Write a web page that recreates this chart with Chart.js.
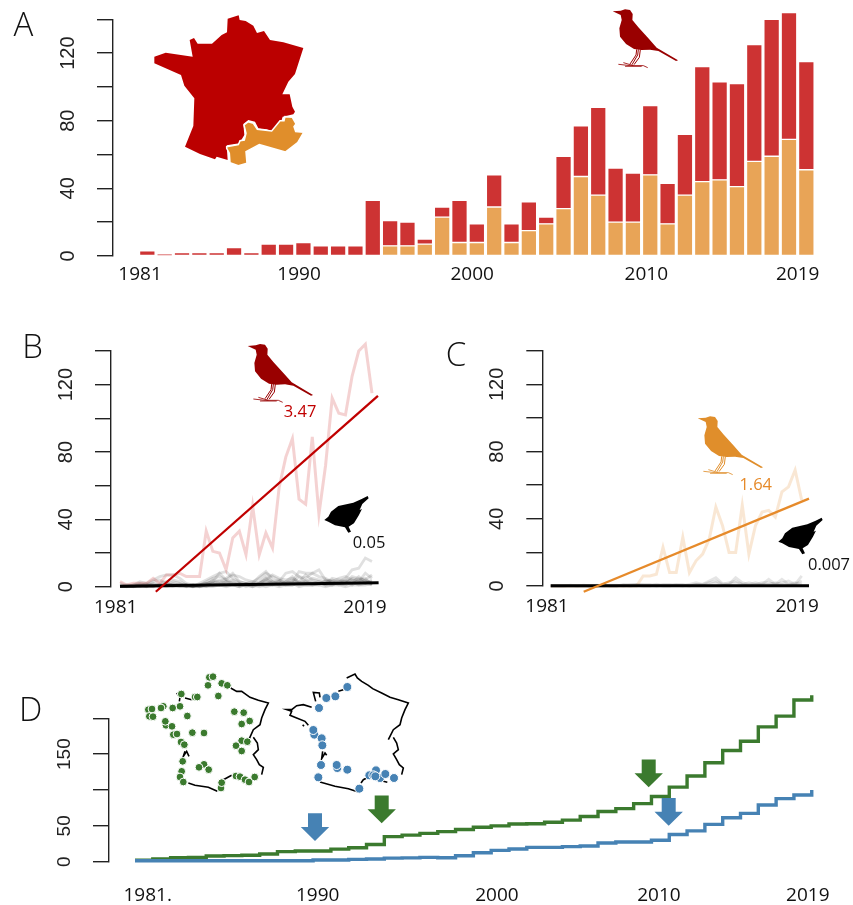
<!DOCTYPE html>
<html><head><meta charset="utf-8">
<script src="https://cdn.jsdelivr.net/npm/chart.js@4"></script>
<style>
html,body{margin:0;padding:0;background:#fff;overflow:hidden}
canvas{position:absolute;display:block}
</style></head><body>
<canvas id="a" style="left:0;top:0" width="853" height="300"></canvas>
<canvas id="b" style="left:0;top:330px" width="425" height="295"></canvas>
<canvas id="c" style="left:425px;top:330px" width="428" height="295"></canvas>
<canvas id="d" style="left:0;top:660px" width="853" height="245"></canvas>
<canvas id="m1" style="left:140px;top:668px" width="135" height="130"></canvas>
<canvas id="m2" style="left:280px;top:668px" width="135" height="130"></canvas>
<script>
const years=[1981,1982,1983,1984,1985,1986,1987,1988,1989,1990,1991,1992,1993,1994,1995,1996,1997,1998,1999,2000,2001,2002,2003,2004,2005,2006,2007,2008,2009,2010,2011,2012,2013,2014,2015,2016,2017,2018,2019];
const totalCounts=[3,1,2,2,2,5,2,7,7,8, 6,6,6,33,21,20,10,29,33,19, 48,19,32,23,59,77,88,52,49,89, 43,72,112,103,102,125,140,144,115];
const orangeCounts=[0,0,0,0,0,0,0,0,0,0, 0,0,0,0,6,6,7,23,8,8, 29,8,15,19,28,47,36,20,20,48, 19,36,44,45,41,56,59,69,51];
const redOnlyCounts=[3,1,2,2,2,5,2,7,7,8, 6,6,6,33,15,14,3,6,25,11, 19,11,17,4,31,30,52,32,29,41, 24,36,68,58,61,69,81,75,64];

const greyB=[
[2,1,1,3,2,4,6,7,7,5, 2,1,1,2,3,8,4,2,1,2, 3,5,8,6,4,2,3,9,8,8, 10,4,3,3,5,10,11,17,15],
[1,0,1,2,1,3,4,2,1,1, 1,0,2,4,6,8,9,5,3,2, 2,6,9,4,3,8,9,6,5,8, 6,5,3,5,6,4,3,8,5],
[0,1,0,1,2,1,2,3,4,3, 1,1,1,3,5,6,4,7,6,4, 3,2,4,7,5,4,5,3,7,4, 3,2,5,4,3,6,5,4,7],
[0,0,1,1,0,2,1,1,3,2, 0,1,0,1,4,3,5,8,3,2, 1,3,6,3,2,3,2,6,3,5, 4,3,2,3,4,2,6,3,2],
[0,0,0,1,1,1,0,2,1,1, 1,0,1,2,3,2,3,4,2,1, 1,2,4,2,4,2,4,2,4,2, 1,4,2,2,3,4,3,3,3],
[0,0,0,0,1,0,1,1,1,0, 0,1,0,1,1,2,1,2,1,1, 2,1,2,3,1,2,3,1,2,3, 2,1,3,1,2,2,2,4,2],
[0,0,0,0,0,1,0,0,1,1, 1,0,0,0,2,1,1,1,2,0, 1,0,1,1,2,1,1,2,1,1, 2,2,1,2,1,3,1,2,1],
[0,0,0,0,0,0,0,1,0,0, 0,0,1,0,0,1,0,1,0,1, 0,1,0,1,0,1,2,0,1,1, 1,0,1,1,0,1,1,1,2],
[0,0,0,1,0,0,1,0,0,1, 1,0,1,2,1,1,3,1,0,2, 1,1,3,1,3,1,1,3,2,2, 3,1,1,3,3,1,4,2,4],
[0,0,0,0,0,0,1,1,2,1, 0,0,0,1,2,4,2,3,1,1, 0,2,5,2,1,3,6,2,3,1, 2,3,4,2,2,5,4,5,1]
];
const greyC=[
[0,0,0,0.5,0,0,0,0,0.5,0, 0,1,1,1,0.5,1,0.5,1,0.5,0.5, 1,0.5,1,1,3,5,1.5,1,5,2, 1,2,1,4,1,4,1,1,6],
[0,0,0,0,0,0.5,0,0,0,0.5, 0.5,0,0.5,1,1,0.5,0,0.5,1,0.5, 0,1,2,1,2,3,1,2,3,1, 2,1,2,2,1,2,3,1,3],
[0,0,0,0,0,0,0,0.5,0,0, 0,0.5,0,0.5,0,0,1,0,0,1, 0.5,0,1,0.5,1,2,0.5,1,2,1, 0.5,1,1,1,2,1,1,2,1]
];
const trendBx=[1986.4,2019.9], trendBy=[-3,113.3];
const flatBx=[1981,2020], flatBy=[0.2,2.3];
const trendCx=[1986,2020.1], trendCy=[-3.4,52];
const flatCx=[1981,2020.1], flatCy=[0.1,0.2];

const greenCum=[2,3.7,5.5,6,8,8.5,9,10.7,14,15, 15,17.6,19.5,24,35,37,39.5,42,45,48, 50,52.5,53,55,58,63,70,74,81,91, 104,119.5,138,155,168,188,203,225.6,232];
const blueCum=[1.4,1.4,1.4,1.4,1.4,1.4,1.4,1.4,1.4,1.4, 2.3,2.3,3.3,3.7,5,5.3,6,5.6,8.4,12.5, 15.8,17.7,20,20,21,22,26,27.4,27.4,30, 38,43,52,61.4,67.4,79,88,93,100];

const labelsA=['1981','1990','2000','2010','2019'], anchorsA=[1980.58,1989.75,1999.73,2009.77,2018.5];
const labelsBC=['1981','2019'], anchorsB=[1980.35,2017.95], anchorsC=[1980.44,2018.3];
const labelsD=['1981.','1990','2000','2010','2019'], anchorsD=[1981.71,1991.26,2001.32,2010.42,2018.78];
const yTicksCount=[0,40,80,120], yTicksD=[0,50,150];

const RED='#CD3333',ORANGE='#E8A457',DK='#222';
const XF='"Open Sans",sans-serif', YF='"Liberation Sans",sans-serif';
const pts=(xs,ys)=>xs.map((x,i)=>({x,y:ys[i]}));

function noMargins(s){s.paddingLeft=s.paddingRight=s.paddingTop=s.paddingBottom=0;if(s._margins){s._margins.left=s._margins.right=s._margins.top=s._margins.bottom=0;}}
function axes(o){return {
 x:{type:'linear',offset:false,stacked:!!o.stacked,min:o.xmin,max:o.xmax,position:'bottom',
   afterFit:s=>{s.height=o.bottomH;noMargins(s);},
   afterBuildTicks:s=>{s.ticks=o.anchors.map(v=>({value:v}));},
   grid:{display:false,drawTicks:false},border:{display:false},
   ticks:{autoSkip:false,maxRotation:0,minRotation:0,padding:o.xpad,font:{family:XF,size:o.xsize||19},color:'#111',
     callback:(v,i)=>o.labels[i]}},
 y:{type:'linear',stacked:!!o.stacked,min:0,max:o.ymax,position:'left',
   afterFit:s=>{s.width=o.left;noMargins(s);},
   grid:{drawOnChartArea:false,drawTicks:true,tickLength:16,tickColor:DK,lineWidth:1.4},
   border:{display:true,color:DK,width:1.4},
   ticks:{stepSize:o.step,autoSkip:false,minRotation:90,maxRotation:90,crossAlign:'center',padding:12,
     font:{family:YF,size:o.ysize||20},color:'#222',
     callback:v=>o.yShow.includes(v)?String(v):''}}
};}
function base(o,plugin){return {responsive:false,animation:false,devicePixelRatio:1,
  layout:{autoPadding:false,padding:{top:o.top,right:o.right,left:0,bottom:0}},
  plugins:{legend:{display:false},tooltip:{enabled:false}},
  scales:axes(o)};}

function poly(ctx,p,s,ox,oy){ctx.beginPath();p.forEach((q,i)=>{const x=ox+q[0]/s,y=oy+q[1]/s;i?ctx.lineTo(x,y):ctx.moveTo(x,y);});ctx.closePath();}
const birdBody=[[548,34],[572,32],[585,28],[600,30],[608,42],[607,60],[625,82],[655,115],[680,143],[744,181],[738,183],[685,153],[660,149],[635,150],[612,147],[588,132],[570,110],[568,85],[575,60],[572,45]];
const birdLegs=[[[620,148],[618,165],[600,192]],[[625,148],[623,165],[606,194]],[[631,148],[628,172],[612,194]]];
const birdFeet=[[[565,193],[600,197],[640,197],[653,203]],[[580,188],[610,197]],[[585,199],[635,199]]];
function bird(ctx,x,y,c){
 ctx.save();ctx.translate(x-548/3,y-34/3);ctx.scale(1/3,1/3);
 poly(ctx,birdBody,1,0,0);ctx.fillStyle=c;ctx.fill();
 ctx.strokeStyle=c;ctx.lineWidth=3;
 birdLegs.forEach(l=>{ctx.beginPath();l.forEach((q,i)=>i?ctx.lineTo(q[0],q[1]):ctx.moveTo(q[0],q[1]));ctx.stroke();});
 ctx.lineWidth=2.5;
 birdFeet.forEach(l=>{ctx.beginPath();l.forEach((q,i)=>i?ctx.lineTo(q[0],q[1]):ctx.moveTo(q[0],q[1]));ctx.stroke();});
 ctx.restore();
}
const blackBird=[[973,570],[985,560],[993,545],[1015,528],[1060,518],[1085,507],[1103,498],[1106,505],[1087,522],[1079,540],[1086,537],[1077,555],[1062,580],[1046,590],[1053,605],[1045,608],[1035,592],[1005,586],[985,575]];
function bbird(ctx,x,y){ctx.save();ctx.translate(x-973/3,y-570/3);poly(ctx,blackBird,3,0,0);ctx.fillStyle='#000';ctx.fill();ctx.restore();}
function text(ctx,t,x,y,font,c){ctx.save();ctx.font=font;ctx.fillStyle=c;ctx.textAlign='center';ctx.textBaseline='middle';ctx.fillText(t,x,y);ctx.restore();}
const LETTER='300 33px "Open Sans",sans-serif', NOTE='16.5px "Open Sans",sans-serif';

const franceRed=[[463,170],[497,158],[578,170],[569,120],[582,114],[593,131],[636,131],[665,105],[681,97],[683,56],[716,46],[719,60],[737,63],[760,77],[771,99],[792,93],[810,120],[850,127],[910,144],[885,222],[865,245],[847,283],[869,283],[877,320],[885,335],[880,343],[848,350],[845,360],[820,395],[800,388],[775,385],[765,365],[745,360],[730,372],[733,405],[718,430],[680,436],[683,480],[650,470],[645,478],[600,462],[555,440],[580,378],[583,295],[553,257],[543,225],[463,190]];
const franceOrange=[[680,440],[715,434],[720,422],[733,420],[738,400],[732,375],[745,365],[760,370],[772,388],[815,393],[840,362],[852,362],[855,350],[877,352],[888,372],[882,380],[887,395],[911,397],[893,428],[856,456],[778,434],[738,455],[741,490],[715,497],[690,488],[688,460],[680,445]];

new Chart('a',{type:'bar',
 data:{datasets:[
  {data:pts(years,orangeCounts),backgroundColor:ORANGE,borderColor:'#fff',borderWidth:1,borderSkipped:false,barThickness:15.6,clip:false},
  {data:pts(years,redOnlyCounts),backgroundColor:RED,borderColor:'#fff',borderWidth:1,borderSkipped:false,barThickness:15.6,clip:false}]},
 options:base({stacked:true,top:19.3,right:38,left:113,bottomH:44,xmin:1979.02,xmax:2019.5,ymax:140,step:20,xpad:7,anchors:anchorsA,labels:labelsA,yShow:yTicksCount}),
 plugins:[{id:'decoA',afterDraw(ch){const c=ch.ctx;
  poly(c,franceRed,3,0,0);c.fillStyle='#BB0000';c.fill();
  poly(c,franceOrange,3,0,0);c.fillStyle='#E08E2B';c.fill();c.strokeStyle='#fff';c.lineWidth=1.5;c.stroke();
  bird(c,612.7,11.3,'#990000');
  text(c,'A',23.3,27,LETTER,'#111');
 }}]});

function panel(id,o,ds,deco){new Chart(id,{type:'line',data:{datasets:ds},options:base(o),plugins:[{id:'deco'+id,afterDraw:deco}]});}
const ln=(data,color,w)=>({data,borderColor:color,borderWidth:w,pointRadius:0,tension:0,clip:false,fill:false,borderCapStyle:'butt'});

panel('b',{top:21,right:425-378.6,left:111,bottomH:295-256.7,xmin:1979.64,xmax:2020,ymax:140,step:20,xpad:9,anchors:anchorsB,labels:labelsBC,yShow:yTicksCount},
 [ln(pts(trendBx,trendBy),'#C00000',2.3),ln(pts(flatBx,flatBy),'#000',3),
  ln(pts(years,totalCounts),'rgba(205,51,51,0.22)',3),
  ...greyB.map(g=>ln(pts(years,g),'rgba(0,0,0,0.12)',2.8))],
 function(ch){const c=ch.ctx;
  bird(c,247.7,16,'#990000');bbird(c,324.3,190);
  text(c,'3.47',300,82,NOTE,'#C00000');text(c,'0.05',369,213,NOTE,'#111');
  text(c,'B',32.7,18.3,LETTER,'#111');
 });

panel('c',{top:20.7,right:428-384,left:117.3,bottomH:295-256,xmin:1979.73,xmax:2020.1,ymax:140,step:20,xpad:9,anchors:anchorsC,labels:labelsBC,yShow:yTicksCount},
 [ln(pts(trendCx,trendCy),'#E68A2A',2.3),ln(pts(flatCx,flatCy),'#000',3),
  ln(pts(years,orangeCounts),'rgba(232,164,87,0.26)',3),
  ...greyC.map(g=>ln(pts(years,g),'rgba(0,0,0,0.10)',2.8))],
 function(ch){const c=ch.ctx;
  bird(c,272.7,88.3,'#E08E2B');bbird(c,353.3,211.7);
  text(c,'1.64',330.7,155.7,NOTE,'#E68A2A');text(c,'0.007',404,235.7,NOTE,'#111');
  text(c,'C',31,27,LETTER,'#111');
 });

const arrows=[{c:'#4682B4',x:315,tip:841},{c:'#3B7A2E',x:381.7,tip:823.3},{c:'#3B7A2E',x:648.7,tip:787.3},{c:'#4682B4',x:668.7,tip:825.7}];
new Chart('d',{type:'line',
 data:{datasets:[
  {...ln(pts(years,blueCum),'#4682B4',3.4),stepped:true},
  {...ln(pts(years,greenCum),'#3B7A2E',3.4),stepped:true}]},
 options:base({top:58.3,right:853-815.3,left:109,bottomH:245-201.7,xmin:1979.54,xmax:2019.2,ymax:200,step:50,xpad:22,anchors:anchorsD,labels:labelsD,yShow:yTicksD,ysize:19}),
 plugins:[{id:'decoD',afterDraw(ch){const c=ch.ctx;
  arrows.forEach(a=>{const t=a.tip-660,shaft=7,head=14.2;
   poly(c,[[a.x-shaft,t-27.7],[a.x+shaft,t-27.7],[a.x+shaft,t-14],[a.x+head,t-14],[a.x,t],[a.x-head,t-14],[a.x-shaft,t-14]],1,0,0);
   c.fillStyle=a.c;c.fill();});
  text(c,'D',30.7,51.7,LETTER,'#111');
 }}]});

const outlineLeft=[
 [[272,60],[290,70],[305,70],[330,88],[355,97],[385,105],[375,125],[365,150],[360,170],[340,185],[328,212]],
 [[340,208],[352,225],[355,245],[340,260],[350,275],[358,290],[370,298],[365,320]],
 [[275,322],[250,335]],
 [[232,370],[205,358],[165,352],[145,345]],
 [[110,75],[120,88],[118,100]],[[135,90],[155,95]],
 [[135,250],[130,265],[140,250],[147,265]]];
const outlineRight=[
 [[200,30],[225,18],[232,30],[245,40],[265,52],[278,62],[305,75],[330,88],[355,95],[385,105],[375,125],[365,150],[360,170],[340,185],[325,215]],
 [[340,208],[350,225],[355,245],[340,258],[350,275],[358,290],[370,300],[365,320]],
 [[310,340],[322,343]],[[270,325],[250,335],[243,345]],
 [[235,372],[205,362],[165,355],[120,342]],
 [[128,250],[125,272],[135,255],[140,262]],
 [[107,100],[100,73],[118,75],[120,88]],
 [[95,118],[70,110],[50,113],[35,125],[20,125],[35,130],[30,142],[50,150],[75,160],[85,172]],
 [[175,70],[190,65]],[[68,170],[72,175]]];
const dotsGreen=[[208,28],[219,26],[204,52],[245,46],[262,52],[235,84],[165,87],[172,87],[124,78],[120,115],[98,120],[70,115],[63,120],[25,125],[36,123],[28,145],[39,146],[142,144],[78,172],[76,160],[96,175],[100,200],[111,198],[123,222],[133,230],[157,194],[192,195],[283,131],[311,134],[329,159],[305,168],[305,218],[322,221],[288,233],[305,249],[128,280],[125,310],[120,327],[130,342],[192,289],[177,298],[206,305],[243,360],[245,344],[288,324],[300,326],[315,335],[327,342],[344,327]];
const dotsBlue=[[202,57],[166,85],[139,90],[117,120],[103,200],[100,186],[125,211],[127,232],[123,291],[115,328],[172,300],[170,291],[202,305],[238,362],[268,322],[288,307],[300,330],[280,322],[286,325],[316,318],[342,330]];
function mapChart(id,outline,dots,color,r){new Chart(id,{type:'scatter',
 data:{datasets:[{data:dots.map(d=>({x:d[0],y:d[1]})),pointRadius:r,backgroundColor:color,pointBorderColor:'#fff',pointBorderWidth:1,showLine:false,clip:false},
  ...outline.map(s=>({data:s.map(d=>({x:d[0],y:d[1]})),showLine:true,borderColor:'#000',borderWidth:1.6,pointRadius:0,clip:false}))]},
 options:{responsive:false,animation:false,devicePixelRatio:1,layout:{autoPadding:false,padding:0},plugins:{legend:{display:false},tooltip:{enabled:false}},
  scales:{x:{display:false,min:0,max:405},y:{display:false,min:0,max:390,reverse:true}}}});}
mapChart('m1',outlineLeft,dotsGreen,'#3B7A2E',3.9);
mapChart('m2',outlineRight,dotsBlue,'#4682B4',4.5);
</script></body></html>
